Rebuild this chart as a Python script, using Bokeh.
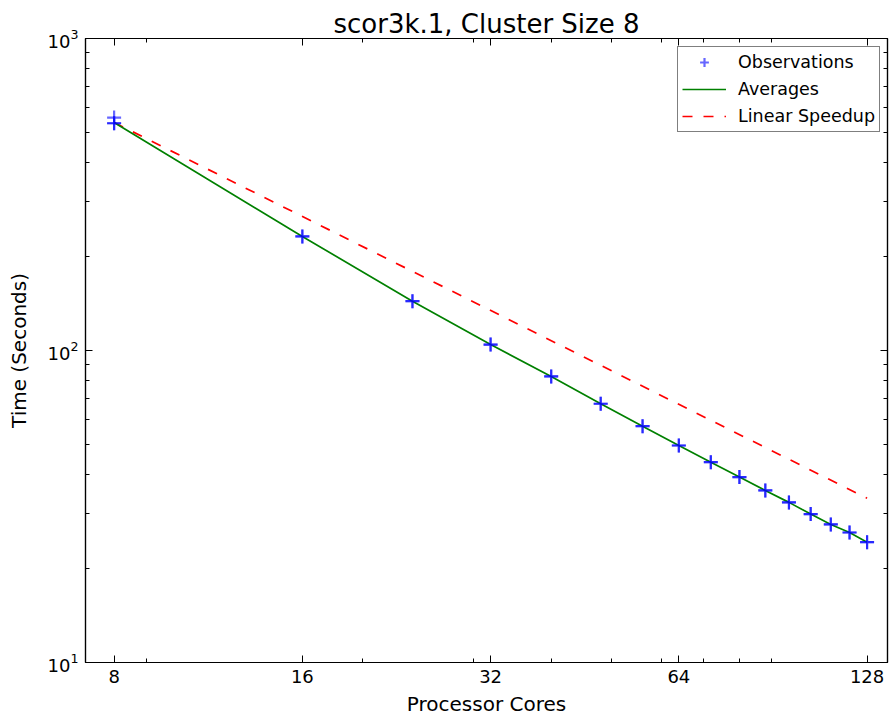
from bokeh.plotting import figure
from bokeh.models import (LogAxis, FixedTicker, PrintfTickFormatter, CustomJSTickFormatter,
                          Legend, LegendItem, ColumnDataSource)
from bokeh.embed import file_html
from bokeh.resources import INLINE

# ---- data ----
cores = [8, 16, 24, 32, 40, 48, 56, 64, 72, 80, 88, 96, 104, 112, 120, 128]
avg_time = [538, 232, 143.9, 104.5, 82.6, 67.5, 57.2, 49.6, 43.85, 39.3, 35.6, 32.6, 29.9, 27.7, 26.1, 24.3]

obs_cores = [8, 8, 8,
             16, 16, 24, 24, 32, 32, 40, 40, 48, 48, 56, 56, 64, 64,
             72, 72, 80, 80, 88, 88, 96, 96, 104, 104, 112, 112, 120, 120, 128, 128]
obs_time = [558, 535, 535,
            232, 232, 143.9, 143.9, 104.5, 104.5, 82.6, 82.6, 67.5, 67.5, 57.2, 57.2, 49.6, 49.6,
            43.85, 43.85, 39.3, 39.3, 35.6, 35.6, 32.6, 32.6, 29.9, 29.9, 27.7, 27.7, 26.1, 26.1, 24.3, 24.3]

speedup_cores = [8, 128]
speedup_time = [538, 33.6]

x_ticks = [8, 16, 32, 64, 128]
x_minor = [9, 20, 30, 40, 50, 60, 70, 80, 90]
y_ticks = [10, 100, 1000]
y_minor = [20, 30, 40, 50, 60, 70, 80, 90, 200, 300, 400, 500, 600, 700, 800, 900]

FONT = "DejaVu Sans"

p = figure(frame_width=802, frame_height=624,
           x_axis_type="log", y_axis_type="log",
           x_range=(7.2, 138), y_range=(10, 1000),
           output_backend="svg", toolbar_location=None,
           min_border_left=85, min_border_top=38, min_border_right=4, min_border_bottom=56,
           title="scor3k.1, Cluster Size 8")

p.title.align = "center"
p.title.text_font = FONT
p.title.text_font_size = "26px"
p.title.text_font_style = "normal"
p.title.text_color = "black"
p.title.standoff = 0

p.xgrid.visible = False
p.ygrid.visible = False
p.outline_line_color = "black"
p.outline_line_width = 1.2
p.background_fill_color = "white"
p.border_fill_color = "white"

xt = FixedTicker(ticks=x_ticks, minor_ticks=x_minor)
yt = FixedTicker(ticks=y_ticks, minor_ticks=y_minor)

def style_axis(ax, labels=True):
    ax.major_tick_in = 7
    ax.major_tick_out = 0
    ax.minor_tick_in = 4
    ax.minor_tick_out = 0
    ax.axis_line_color = "black"
    ax.axis_line_width = 1.2
    ax.major_tick_line_color = "black"
    ax.minor_tick_line_color = "black"
    ax.major_label_text_font = FONT
    ax.major_label_text_color = "black"
    ax.major_label_text_font_size = "18px"
    ax.axis_label_text_font = FONT
    ax.axis_label_text_font_style = "normal"
    ax.axis_label_text_color = "black"
    ax.axis_label_text_font_size = "20px"
    if labels:
        ax.major_label_standoff = 7
    else:
        ax.formatter = CustomJSTickFormatter(code="return '';")
        ax.major_label_standoff = 0

p.xaxis.ticker = xt
p.xaxis.formatter = PrintfTickFormatter(format="%d")
p.xaxis.axis_label = "Processor Cores"
p.yaxis.ticker = yt
p.yaxis.axis_label = "Time (Seconds)"
style_axis(p.xaxis[0])
style_axis(p.yaxis[0])
p.xaxis.axis_label_standoff = 6
p.yaxis.axis_label_standoff = 14

top_ax = LogAxis(ticker=xt)
right_ax = LogAxis(ticker=yt)
style_axis(top_ax, labels=False)
style_axis(right_ax, labels=False)
p.add_layout(top_ax, "above")
p.add_layout(right_ax, "right")

obs_src = ColumnDataSource(dict(x=obs_cores, y=obs_time))
avg_src = ColumnDataSource(dict(x=cores, y=avg_time))
spd_src = ColumnDataSource(dict(x=speedup_cores, y=speedup_time))

r_spd = p.line("x", "y", source=spd_src, line_color="#ff0000", line_width=1.7, line_dash="10 11")
r_avg = p.line("x", "y", source=avg_src, line_color="#008000", line_width=1.7)
r_obs = p.scatter("x", "y", source=obs_src, marker="cross", size=14,
                  line_color="#0000ff", line_width=2.2, line_alpha=0.6)

legend = Legend(items=[LegendItem(label="Observations", renderers=[r_obs]),
                       LegendItem(label="Averages", renderers=[r_avg]),
                       LegendItem(label="Linear Speedup", renderers=[r_spd])],
                location=(592, 530))
legend.label_text_font = FONT
legend.label_text_font_size = "17.5px"
legend.label_text_color = "black"
legend.border_line_color = "black"
legend.border_line_width = 1.5
legend.background_fill_alpha = 1
legend.glyph_width = 44
legend.glyph_height = 22
legend.label_height = 22
legend.spacing = 5
legend.padding = 4
legend.margin = 0
legend.label_standoff = 12
p.add_layout(legend)

open("out.html", "w").write(file_html(p, INLINE))
